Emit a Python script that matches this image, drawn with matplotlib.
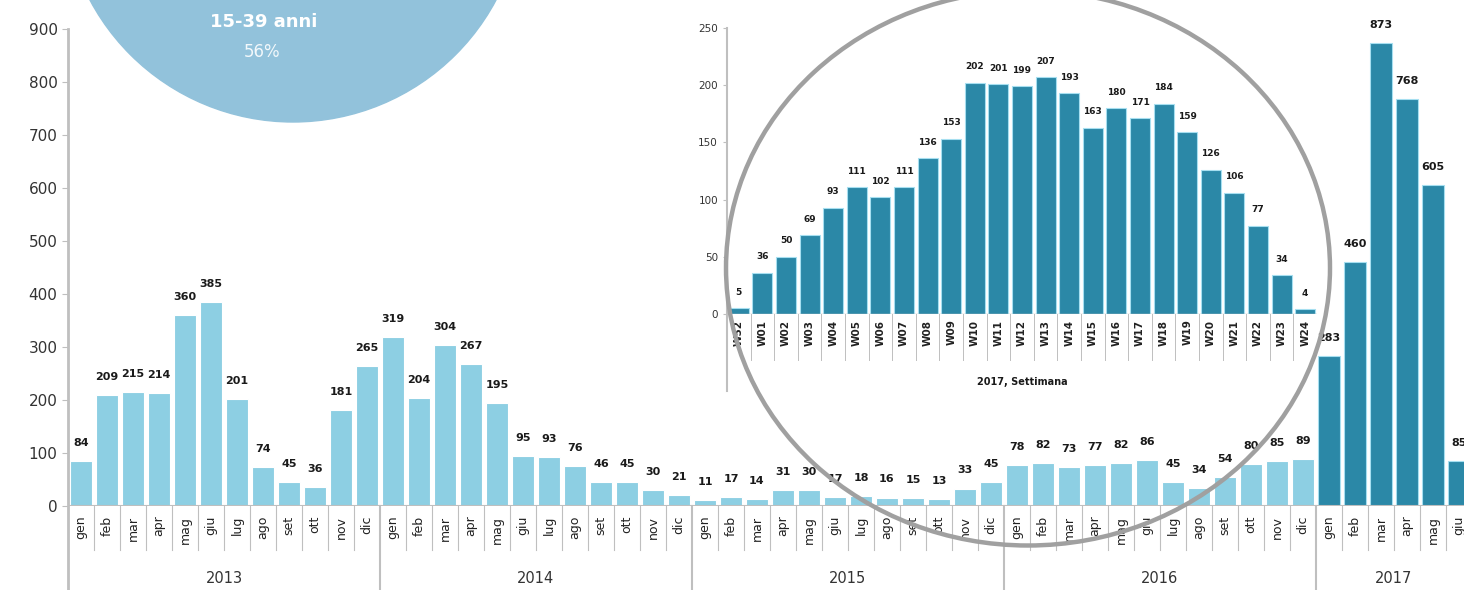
import matplotlib
matplotlib.use("Agg")
import matplotlib.pyplot as plt
from matplotlib.patches import Ellipse
import numpy as np

# dati mensili 2013-2017
years = ["2013", "2014", "2015", "2016", "2017"]
months = ["gen", "feb", "mar", "apr", "mag", "giu", "lug", "ago", "set", "ott", "nov", "dic"]
cases_2013 = [84, 209, 215, 214, 360, 385, 201, 74, 45, 36, 181, 265]
cases_2014 = [319, 204, 304, 267, 195, 95, 93, 76, 46, 45, 30, 21]
cases_2015 = [11, 17, 14, 31, 30, 17, 18, 16, 15, 13, 33, 45]
cases_2016 = [78, 82, 73, 77, 82, 86, 45, 34, 54, 80, 85, 89]
cases_2017 = [283, 460, 873, 768, 605, 85]

# dati settimanali 2017
weeks = ["W52"] + ["W%02d" % w for w in range(1, 25)]
cases_week = [5, 36, 50, 69, 93, 111, 102, 111, 136, 153, 202, 201, 199, 207,
              193, 163, 180, 171, 184, 159, 126, 106, 77, 34, 4]

LIGHT = "#8dcfe3"
DARK = "#2b88a7"
GREY = "#bfbfbf"
W, H = 1464, 590

fig = plt.figure(figsize=(W / 100, H / 100), dpi=100)

# cerchio in alto a sinistra
fig.patches.append(Ellipse((293 / W, 1 + 108 / H), 460 / W, 460 / H,
                           transform=fig.transFigure, color="#92c2db", zorder=0))
fig.text(264 / W, 1 - 22 / H, "15-39 anni", color="white", fontsize=13,
         fontweight="bold", ha="center", va="center")
fig.text(262 / W, 1 - 52 / H, "56%", color="#f2f8fb", fontsize=12,
         ha="center", va="center")

# grafico principale
ax = fig.add_axes([68 / W, 1 - 506 / H, (W - 68) / W, 477 / H])
ax.patch.set_alpha(0)
monthly = cases_2013 + cases_2014 + cases_2015 + cases_2016 + cases_2017
x = np.arange(len(monthly))
colors = [LIGHT] * 48 + [DARK] * len(cases_2017)
edges = ["white"] * 48 + ["#a6dff0"] * len(cases_2017)
ax.bar(x, monthly, width=0.84, color=colors, edgecolor=edges, linewidth=0.8)
for xi, v in zip(x, monthly):
    ax.text(xi, v + 34, str(v), ha="center", va="center", fontsize=8,
            fontweight="bold", color="#1a1a1a",
            bbox=dict(fc="white", ec="none", pad=0.6))

ax.set_xlim(-0.5, -0.5 + (W - 68) / 26)
ax.set_ylim(0, 900)
ax.set_yticks(range(0, 901, 100))
ax.tick_params(axis="y", labelsize=11, colors="#333333", length=4, color=GREY)
ax.set_xticks(x)
month_labels = (months * 5)[:len(monthly)]
ax.set_xticklabels(month_labels, rotation=90, fontsize=9, color="#222222")
ax.tick_params(axis="x", length=0, pad=7)
for s in ["top", "right", "bottom", "left"]:
    ax.spines[s].set_visible(False)
ax.axvline(-0.5, ymin=-0.176, ymax=1, color=GREY, lw=2, clip_on=False)
ax.axhline(0, color=GREY, lw=1.5)
xt = ax.get_xaxis_transform()
for i in range(len(monthly) - 1):
    b = i + 0.5
    if (i + 1) % 12 == 0:
        ax.plot([b, b], [0, -0.176], transform=xt, color=GREY, lw=1.5, clip_on=False)
    else:
        ax.plot([b, b], [0, -0.092], transform=xt, color=GREY, lw=0.8, clip_on=False)
for k, yr in enumerate(years):
    cx = 12 * k + 5.5 if yr != "2017" else 48 + 2.5
    ax.text(cx, -0.151, yr, transform=xt, ha="center", va="center",
            fontsize=10.5, color="#333333")

# grafico settimanale nel cerchio
ax2 = fig.add_axes([727 / W, 1 - 314 / H, 590 / W, 286 / H])
ax2.patch.set_alpha(0)
xw = np.arange(len(cases_week))
ax2.bar(xw, cases_week, width=0.84, color=DARK, edgecolor="#a6dff0", linewidth=0.8)
for xi, v in zip(xw, cases_week):
    ax2.text(xi, v + 14, str(v), ha="center", va="center", fontsize=6.5,
             fontweight="bold", color="#1a1a1a",
             bbox=dict(fc="white", ec="none", pad=0.4))
ax2.set_xlim(-0.5, len(cases_week) - 0.5)
ax2.set_ylim(0, 250)
ax2.set_yticks(range(0, 251, 50))
ax2.tick_params(axis="y", labelsize=7.5, colors="#333333", length=3, color=GREY)
ax2.set_xticks(xw)
ax2.set_xticklabels(weeks, rotation=90, fontsize=7.5, fontweight="bold", color="#222222")
ax2.tick_params(axis="x", length=0, pad=4)
for s in ["top", "right", "bottom", "left"]:
    ax2.spines[s].set_visible(False)
ax2.axvline(-0.5, ymin=-0.27, ymax=1, color=GREY, lw=1.5, clip_on=False)
ax2.axhline(0, color=GREY, lw=1)
xt2 = ax2.get_xaxis_transform()
for i in range(len(cases_week) - 1):
    ax2.plot([i + 0.5, i + 0.5], [0, -0.16], transform=xt2, color=GREY, lw=0.7,
             clip_on=False)
ax2.text(0.5, -0.238, "2017, Settimana", transform=ax2.transAxes, ha="center",
         va="center", fontsize=7, fontweight="bold", color="#1a1a1a")

# cerchio grigio attorno al grafico settimanale
fig.patches.append(Ellipse((1028 / W, 1 - 268 / H), 604 / W, 555 / H,
                           transform=fig.transFigure, fill=False,
                           ec="#a0a0a0", lw=3.2, zorder=10))

fig.savefig("out.png", dpi=100)
